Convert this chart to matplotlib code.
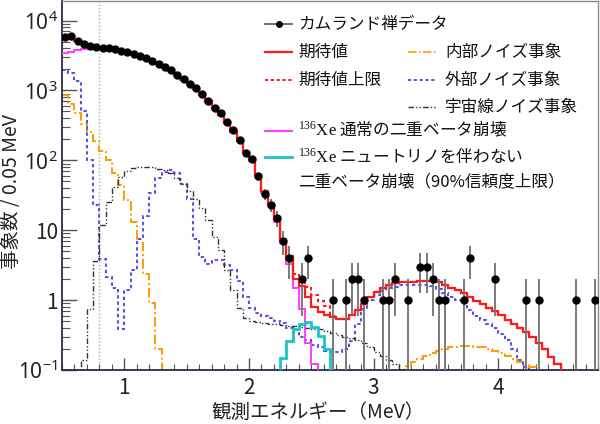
import numpy as np
import matplotlib
matplotlib.use('Agg')
import matplotlib.pyplot as plt
from matplotlib.lines import Line2D
from matplotlib.ticker import FixedLocator, FixedFormatter, MultipleLocator, NullFormatter, LogLocator

plt.rcParams['font.family'] = ['Noto Sans CJK JP', 'DejaVu Sans']
plt.rcParams['mathtext.fontset'] = 'custom'
plt.rcParams['mathtext.rm'] = 'Liberation Serif'
plt.rcParams['mathtext.it'] = 'Liberation Serif:italic'
plt.rcParams['mathtext.bf'] = 'Liberation Serif:bold'
plt.rcParams['mathtext.sf'] = 'Noto Sans'

# ---------------- data (0.05 MeV bins from 0.5 to 4.8 MeV) ----------------
e_lo, e_hi, n_bins = 0.5, 4.8, 86

data_counts = [5900, 6050, 5100, 4550, 4300, 4150, 4070, 4050, 3950, 3650,
               3530, 3340, 3130, 2900, 2600, 2380, 2180, 1930, 1690, 1450,
               1220, 1090, 877, 704, 565, 474, 349, 268, 197, 127,
               104, 59, 33, 23, 15, 7, 4, 0, 2, 4,
               0, 0, 0, 1, 0, 1, 2, 2, 1, 0,
               0, 1, 1, 2, 0, 1, 0, 3, 3, 2,
               1, 1, 0, 0, 1, 4, 0, 0, 0, 2,
               0, 0, 0, 0, 1, 0, 1, 0, 0, 0,
               0, 0, 1, 0, 0, 1]

expected = [6000, 6000, 5100, 4550, 4300, 4150, 4080, 4030, 3930, 3700,
            3520, 3330, 3120, 2880, 2620, 2380, 2150, 1920, 1680, 1440,
            1220, 1060, 870, 700, 560, 450, 345, 262, 192, 132,
            100, 62, 36, 24, 14, 7.2, 4.0, 2.0, 1.6, 1.12,
            0.8, 0.68, 0.62, 0.58, 0.54, 0.54, 0.61, 0.72, 0.89, 1.1,
            1.31, 1.47, 1.64, 1.76, 1.8, 1.82, 1.84, 1.86, 1.88, 1.9,
            1.8, 1.64, 1.5, 1.38, 1.25, 1.1, 0.98, 0.88, 0.78, 0.7,
            0.61, 0.52, 0.45, 0.4, 0.35, 0.3, 0.24, 0.2, 0.155, 0.12,
            0, 0, 0, 0, 0, 0]

expected_upper = [6000, 6000, 5100, 4550, 4300, 4150, 4080, 4030, 3930, 3700,
                  3520, 3330, 3120, 2880, 2620, 2380, 2150, 1920, 1680, 1440,
                  1220, 1060, 870, 700, 560, 450, 345, 262, 192, 132,
                  100, 62, 36, 24, 14.2, 7.35, 4.3, 2.4, 2.05, 1.55,
                  1.2, 0.97, 0.82, 0.6, 0.54, 0.54, 0.61, 0.72, 0.89, 1.1,
                  1.31, 1.47, 1.64, 1.76, 1.8, 1.82, 1.84, 1.86, 1.88, 1.9,
                  1.8, 1.64, 1.5, 1.38, 1.25, 1.1, 0.98, 0.88, 0.78, 0.7,
                  0.61, 0.52, 0.45, 0.4, 0.35, 0.3, 0.24, 0.2, 0.155, 0.12,
                  0, 0, 0, 0, 0, 0]

internal_bg = [850, 650, 470, 335, 255, 190, 138, 100, 65, 45,
               27, 13, 6.5, 2.4, 0.9, 0.2, 0, 0, 0, 0,
               0, 0, 0, 0, 0, 0, 0, 0, 0, 0,
               0, 0, 0, 0, 0, 0, 0, 0, 0, 0,
               0, 0, 0, 0, 0, 0, 0, 0, 0, 0,
               0, 0, 0, 0, 0.1, 0.115, 0.13, 0.145, 0.16, 0.175,
               0.19, 0.2, 0.21, 0.215, 0.22, 0.22, 0.215, 0.21, 0.2, 0.19,
               0.175, 0.16, 0.145, 0.13, 0.12, 0.11, 0.1, 0, 0, 0,
               0, 0, 0, 0, 0, 0]

external_bg = [1950, 1750, 1350, 500, 100, 23, 3.9, 2.15, 1.5, 0.39,
               1.39, 2.7, 7.5, 16, 34, 55, 68, 72, 65, 46,
               28, 7.6, 4.2, 3.3, 3.7, 3.8, 3.2, 2.7, 1.9, 1.1,
               0.78, 0.66, 0.6, 0.55, 0.5, 0.47, 0.4, 0.34, 0.3, 0.27,
               0.23, 0.21, 0.19, 0.18, 0.18, 0.2, 0.26, 0.45, 0.75, 1.0,
               1.2, 1.35, 1.48, 1.55, 1.62, 1.64, 1.65, 1.65, 1.64, 1.6,
               1.45, 1.25, 1.1, 1.0, 0.9, 0.72, 0.6, 0.52, 0.45, 0.4,
               0.33, 0.27, 0.2, 0.14, 0.11, 0, 0, 0, 0, 0,
               0, 0, 0, 0, 0, 0]

cosmogenic_bg = [0, 0, 0, 0.14, 0.74, 3.6, 12, 25, 42, 58,
                 70, 77, 80, 81, 80, 76, 72, 66, 56, 46,
                 37, 28, 21, 14, 8, 5.2, 2.7, 1.4, 0.78, 0.55,
                 0.5, 0.48, 0.47, 0.46, 0.45, 0.44, 0.43, 0.42, 0.41, 0.4,
                 0.39, 0.38, 0.36, 0.34, 0.32, 0.3, 0.29, 0.27, 0.24, 0.21,
                 0.18, 0.16, 0.14, 0.12, 0.1, 0, 0, 0, 0, 0,
                 0, 0, 0, 0, 0, 0, 0, 0, 0, 0,
                 0, 0, 0, 0, 0, 0, 0, 0, 0, 0,
                 0, 0, 0, 0, 0, 0]

xe_2nu = [3400, 3600, 3750, 3870, 3960, 4010, 4030, 4000, 3900, 3680,
          3500, 3310, 3100, 2860, 2600, 2360, 2130, 1900, 1660, 1420,
          1200, 1045, 855, 690, 550, 442, 338, 256, 188, 128,
          97, 60, 34, 22, 13, 6.5, 3.3, 1.5, 0.75, 0.24,
          0.12, 0, 0, 0, 0, 0, 0, 0, 0, 0,
          0, 0, 0, 0, 0, 0, 0, 0, 0, 0,
          0, 0, 0, 0, 0, 0, 0, 0, 0, 0,
          0, 0, 0, 0, 0, 0, 0, 0, 0, 0,
          0, 0, 0, 0, 0, 0]

xe_0nu = [0] * 35 + [0.15, 0.26, 0.38, 0.46, 0.48, 0.41, 0.31, 0.2] + [0] * 43

x_tick_vals = [1, 2, 3, 4]
y_tick_vals = [0.1, 1, 10, 100, 1000, 10000]
y_tick_labels = [r'$\mathsf{10^{-1}}$', '1', '10', r'$\mathsf{10^{2}}$',
                 r'$\mathsf{10^{3}}$', r'$\mathsf{10^{4}}$']

# ---------------- figure ----------------
W, H = 600, 424
fig = plt.figure(figsize=(W / 100, H / 100), dpi=100)
ax = fig.add_axes([62 / W, 1 - 370 / H, 536 / W, 369 / H])

edges = np.linspace(e_lo, e_hi, n_bins + 1)
centers = 0.5 * (edges[1:] + edges[:-1])


def step(vals, **kw):
    v = np.asarray(vals, float)
    v = np.where(v > 0, v, 1e-4)
    ax.stairs(v, edges, baseline=None, **kw)


ax.set_yscale('log')
ax.set_xlim(e_lo, e_hi)
ax.set_ylim(0.1, 10 ** 4.28)

ax.axvline(0.8, color='#aaaaaa', ls=(0, (1, 1.5)), lw=1.0, zorder=1)

c_orange = '#ff9a00'
c_blue = '#5555e0'
c_gray = '#333333'
c_red = '#ff1a1a'
c_mag = '#ff3cff'
c_cyan = '#1cc4c4'

ls_dashdot = (0, (5, 1.5, 1, 1.5))
ls_dot = (0, (1.6, 1.4))
ls_dd = (0, (4, 1.5, 1, 1.5, 1, 1.5))

step(internal_bg, color=c_orange, lw=1.4, ls=ls_dashdot, zorder=2)
step(external_bg, color=c_blue, lw=1.5, ls=ls_dot, zorder=2)
step(cosmogenic_bg, color=c_gray, lw=1.0, ls=ls_dd, zorder=2)
step(expected_upper, color=c_red, lw=1.5, ls=ls_dot, zorder=3)
step(xe_2nu, color=c_mag, lw=1.4, zorder=3)
step(xe_0nu, color=c_cyan, lw=2.0, zorder=3)
step(expected, color=c_red, lw=1.6, zorder=4)

cnt = np.asarray(data_counts, float)
m = cnt > 0
err = np.sqrt(cnt[m])
lo = np.minimum(err, cnt[m] * 0.99999)
ax.errorbar(centers[m], cnt[m], yerr=[lo, err], fmt='o', color='black',
            ms=5, ecolor='#707070', elinewidth=1.3, capsize=0, zorder=5)

# ticks
ax.xaxis.set_major_locator(FixedLocator(x_tick_vals))
ax.xaxis.set_minor_locator(MultipleLocator(0.1))
ax.yaxis.set_major_locator(FixedLocator(y_tick_vals))
ax.yaxis.set_major_formatter(FixedFormatter(y_tick_labels))
ax.yaxis.set_minor_locator(LogLocator(base=10, subs=np.arange(2, 10)))
ax.yaxis.set_minor_formatter(NullFormatter())
ax.tick_params(axis='both', which='both', direction='in', colors='#555555',
               labelcolor='#222222')
ax.tick_params(axis='y', which='major', length=10.5, width=1.0, labelsize=15, pad=3)
ax.tick_params(axis='y', which='minor', length=5.5, width=0.8)
ax.tick_params(axis='x', which='major', length=8.5, width=1.0, labelsize=15, pad=5)
ax.tick_params(axis='x', which='minor', length=4, width=0.8)
ax.tick_params(top=False, right=False, which='both')

for s in ['left', 'bottom']:
    ax.spines[s].set_color('#2a2a44')
    ax.spines[s].set_linewidth(1.3)
for s in ['top', 'right']:
    ax.spines[s].set_color('#8a8a8a')
    ax.spines[s].set_linewidth(1.0)

fig.text(318 / W, 1 - 412 / H, '観測エネルギー（MeV）', ha='center', va='center',
         fontsize=14, color='#222222')
fig.text(12 / W, 1 - 192 / H, '事象数 / 0.05 MeV', ha='center', va='center',
         rotation=90, fontsize=14, color='#222222')

# ---------------- legend (manual layout) ----------------
def fx(px):
    return px / W


def fy(py):
    return 1 - py / H


def handle(x1, x2, y, **kw):
    fig.add_artist(Line2D([fx(x1), fx(x2)], [fy(y), fy(y)], transform=fig.transFigure, **kw))


def label(x, y, s):
    fig.text(fx(x), fy(y), s, ha='left', va='center', fontsize=12, color='#111111')


col1 = (265, 292, 298)
col2 = (408, 437, 445)

handle(col1[0], col1[1], 24, color='#555555', lw=1.2)
fig.add_artist(Line2D([fx((col1[0] + col1[1]) / 2)], [fy(24)], transform=fig.transFigure,
                      marker='o', ms=4, color='black', lw=0))
label(col1[2], 24, 'カムランド禅データ')

handle(col1[0], col1[1], 52, color=c_red, lw=1.6)
label(col1[2], 52, '期待値')
handle(col2[0], col2[1], 52, color=c_orange, lw=1.2, ls=ls_dashdot)
label(col2[2], 52, '内部ノイズ事象')

handle(col1[0], col1[1], 80, color=c_red, lw=1.4, ls=ls_dot)
label(col1[2], 80, '期待値上限')
handle(col2[0], col2[1], 80, color=c_blue, lw=1.4, ls=ls_dot)
label(col2[2], 80, '外部ノイズ事象')

handle(col2[0], col2[1], 107, color=c_gray, lw=1.0, ls=ls_dd)
label(col2[2], 107, '宇宙線ノイズ事象')

handle(col1[0], col1[1], 131, color=c_mag, lw=1.5)
label(col1[2], 130, r'$^{\mathrm{136}}\mathrm{Xe}$ 通常の二重ベータ崩壊')

handle(col1[0], col1[1], 157, color=c_cyan, lw=2.0)
label(col1[2], 156, r'$^{\mathrm{136}}\mathrm{Xe}$ ニュートリノを伴わない')
label(col1[2], 183, '二重ベータ崩壊（90%信頼度上限）')

fig.savefig('out.png', dpi=100)
